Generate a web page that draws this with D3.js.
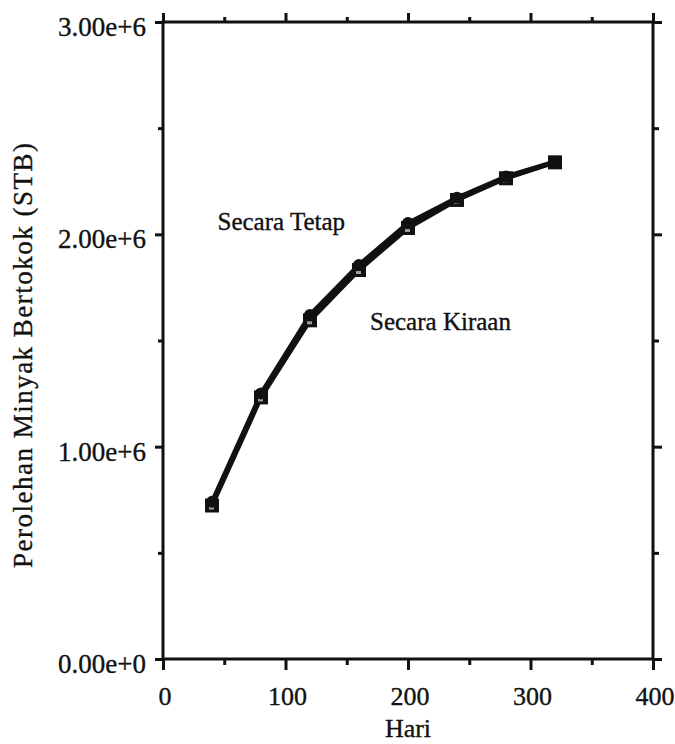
<!DOCTYPE html>
<html>
<head>
<meta charset="utf-8">
<script src="https://cdn.jsdelivr.net/npm/d3@7"></script>
<style>
    body { margin: 0; background: #fff; }
    text { font-family: "Liberation Serif", "Times New Roman", serif; fill: #111; stroke: #111; stroke-width: 0.35px; }
</style>
</head>
<body>
<div id="chart"></div>
<script>
// Data
var days = [40, 80, 120, 160, 200, 240, 280, 320];
var tetap = [0.74e6, 1.25e6, 1.62e6, 1.856e6, 2.053e6, 2.172e6, 2.272e6, 2.342e6];
var kiraan = [0.723e6, 1.232e6, 1.595e6, 1.832e6, 2.03e6, 2.162e6, 2.264e6, 2.339e6];
var xTicks = [0, 100, 200, 300, 400];
var xMinor = [50, 150, 250, 350];
var yTicks = [0, 1e6, 2e6, 3e6];
var yMinor = [0.5e6, 1.5e6, 2.5e6];
var yLabels = ["0.00e+0", "1.00e+6", "2.00e+6", "3.00e+6"];

(function() {
    var W = 675, H = 744;
    var margin = { top: 22, left: 163, right: 22, bottom: 85 },
        width = W - margin.left - margin.right,
        height = H - margin.top - margin.bottom;

    var svg = d3.select("#chart")
        .append("svg")
        .attr("width", W)
        .attr("height", H);

    var g = svg.append("g")
        .attr("transform", "translate(" + margin.left + "," + margin.top + ")");

    var x = d3.scaleLinear().domain([0, 400]).range([0, width]);
    var y = d3.scaleLinear().domain([0, 3e6]).range([height, 0]);

    // Ticks on all four sides, pointing outward
    function styleAxis(sel) {
        sel.select(".domain").remove();
        sel.selectAll("line").attr("stroke", "#111").attr("stroke-width", 3);
    }

    g.append("g").attr("transform", "translate(0," + height + ")")
        .call(d3.axisBottom(x).tickValues(xTicks).tickSize(11).tickFormat(""))
        .call(styleAxis);
    g.append("g").attr("transform", "translate(0," + height + ")")
        .call(d3.axisBottom(x).tickValues(xMinor).tickSize(6).tickFormat(""))
        .call(styleAxis);
    g.append("g")
        .call(d3.axisTop(x).tickValues(xTicks).tickSize(9).tickFormat(""))
        .call(styleAxis);
    g.append("g")
        .call(d3.axisTop(x).tickValues(xMinor).tickSize(5).tickFormat(""))
        .call(styleAxis);
    g.append("g")
        .call(d3.axisLeft(y).tickValues(yTicks).tickSize(8).tickFormat(""))
        .call(styleAxis);
    g.append("g")
        .call(d3.axisLeft(y).tickValues(yMinor).tickSize(5).tickFormat(""))
        .call(styleAxis);
    g.append("g").attr("transform", "translate(" + width + ",0)")
        .call(d3.axisRight(y).tickValues(yTicks).tickSize(9).tickFormat(""))
        .call(styleAxis);
    g.append("g").attr("transform", "translate(" + width + ",0)")
        .call(d3.axisRight(y).tickValues(yMinor).tickSize(6).tickFormat(""))
        .call(styleAxis);

    // Frame
    g.append("rect")
        .attr("width", width)
        .attr("height", height)
        .attr("fill", "none")
        .attr("stroke", "#111")
        .attr("stroke-width", 3);

    // Tick labels
    g.selectAll(".xlab")
        .data(xTicks)
        .enter().append("text")
        .attr("x", function(d) { return x(d) + 2; })
        .attr("y", height + 46)
        .attr("text-anchor", "middle")
        .style("font-size", "26px")
        .text(function(d) { return d; });

    g.selectAll(".ylab")
        .data(yTicks)
        .enter().append("text")
        .attr("x", -17)
        .attr("y", function(d) { return y(d) + 14; })
        .attr("text-anchor", "end")
        .style("font-size", "27px")
        .text(function(d, i) { return yLabels[i]; });

    // Axis titles
    g.append("text")
        .attr("x", width / 2)
        .attr("y", height + 78)
        .attr("text-anchor", "middle")
        .style("font-size", "26px")
        .text("Hari");

    g.append("text")
        .attr("transform", "translate(-131," + (height / 2 + 15) + ") rotate(-90)")
        .attr("text-anchor", "middle")
        .attr("textLength", 425)
        .attr("lengthAdjust", "spacing")
        .style("font-size", "27px")
        .text("Perolehan Minyak Bertokok (STB)");

    // Series lines
    var line = d3.line()
        .x(function(d) { return x(d[0]); })
        .y(function(d) { return y(d[1]); });

    var kPts = days.map(function(d, i) { return [d, kiraan[i]]; });
    var tPts = days.map(function(d, i) { return [d, tetap[i]]; });

    g.append("path")
        .attr("d", line(kPts))
        .attr("fill", "none")
        .attr("stroke", "#111")
        .attr("stroke-width", 4.5);
    g.append("path")
        .attr("d", line(tPts))
        .attr("fill", "none")
        .attr("stroke", "#111")
        .attr("stroke-width", 4.5);

    // Secara Kiraan: squares
    g.selectAll(".sq")
        .data(kPts)
        .enter().append("rect")
        .attr("x", function(d) { return x(d[0]) - 7; })
        .attr("y", function(d) { return y(d[1]) - 7; })
        .attr("width", 14)
        .attr("height", 14)
        .attr("fill", "#111");

    // small light specks inside squares, as in the scan
    g.selectAll(".sqin")
        .data(kPts)
        .enter().append("rect")
        .attr("x", function(d) { return x(d[0]) - 3; })
        .attr("y", function(d) { return y(d[1]) + 1; })
        .attr("width", 5)
        .attr("height", 3)
        .attr("fill", "#fff")
        .attr("opacity", 0.6);

    // Secara Tetap: circles
    g.selectAll(".dot")
        .data(tPts)
        .enter().append("circle")
        .attr("cx", function(d) { return x(d[0]); })
        .attr("cy", function(d) { return y(d[1]); })
        .attr("r", 6)
        .attr("fill", "#111");

    // Series labels
    g.append("text")
        .attr("x", x(44.5))
        .attr("y", y(2.02e6))
        .style("font-size", "25px")
        .text("Secara Tetap");

    g.append("text")
        .attr("x", x(169))
        .attr("y", y(1.55e6))
        .style("font-size", "25px")
        .text("Secara Kiraan");
}());
</script>
</body>
</html>
